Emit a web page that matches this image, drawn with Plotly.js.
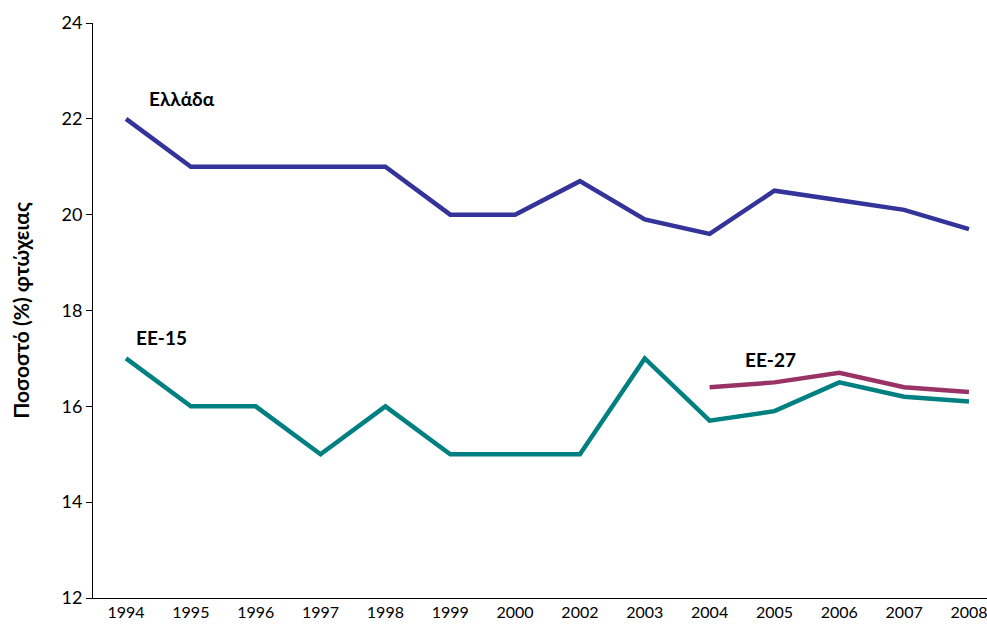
<!DOCTYPE html>
<html>
<head>
<meta charset="utf-8">
<script src="https://cdn.plot.ly/plotly-3.0.1.min.js"></script>
<style>
  html, body { margin: 0; padding: 0; background: #fff; }
  #chart { width: 987px; height: 628px; }
</style>
</head>
<body>
<div id="chart"></div>
<script>
// poverty rate (%) — Greece vs EU-15 / EU-27
const years = ['1994', '1995', '1996', '1997', '1998', '1999', '2000',
               '2002', '2003', '2004', '2005', '2006', '2007', '2008'];
const greece = [22, 21, 21, 21, 21, 20, 20, 20.7, 19.9, 19.6, 20.5, 20.3, 20.1, 19.7];
const eu15 = [17, 16, 16, 15, 16, 15, 15, 15, 17, 15.7, 15.9, 16.5, 16.2, 16.1];
const eu27Years = ['2004', '2005', '2006', '2007', '2008'];
const eu27 = [16.4, 16.5, 16.7, 16.4, 16.3];

const FONT = { family: 'Lato, "Open Sans", sans-serif', color: '#000' };

const line = (x, y, name, color) => ({
  x, y, name, type: 'scatter', mode: 'lines',
  line: { color, width: 4.5 },
});

const traces = [
  line(years, greece, 'Ελλάδα', '#333399'),
  line(years, eu15, 'ΕΕ-15', '#008080'),
  line(eu27Years, eu27, 'ΕΕ-27', '#993366'),
];

const label = (text, x, y) => ({
  text: `<b>${text}</b>`, x, y, xref: 'x', yref: 'y',
  xanchor: 'left', yanchor: 'middle', showarrow: false,
  font: { ...FONT, size: 19 },
});

const layout = {
  width: 987, height: 628,
  margin: { l: 93, r: 0, t: 23, b: 30 },
  paper_bgcolor: '#fff', plot_bgcolor: '#fff',
  showlegend: false,
  font: FONT,
  xaxis: {
    type: 'category', categoryorder: 'array', categoryarray: years,
    range: [-0.509, 13.278],
    showgrid: false, zeroline: false,
    showline: true, linecolor: '#000', linewidth: 1,
    ticks: '', tickfont: { ...FONT, size: 16 },
  },
  yaxis: {
    range: [12, 24], tickvals: [12, 14, 16, 18, 20, 22, 24],
    showgrid: false, zeroline: false,
    showline: true, linecolor: '#000', linewidth: 1,
    ticks: 'outside', ticklen: 6, tickcolor: '#000',
    tickfont: { ...FONT, size: 18 },
    title: { text: '<b>Ποσοστό (%) φτώχειας</b>', font: { ...FONT, size: 21 }, standoff: 26 },
  },
  annotations: [
    label('Ελλάδα', 0.33, 22.42),
    label('ΕΕ-15', 0.13, 17.43),
    label('ΕΕ-27', 9.52, 16.97),
  ],
};

Plotly.newPlot('chart', traces, layout, { displayModeBar: false, staticPlot: true });
</script>
</body>
</html>
